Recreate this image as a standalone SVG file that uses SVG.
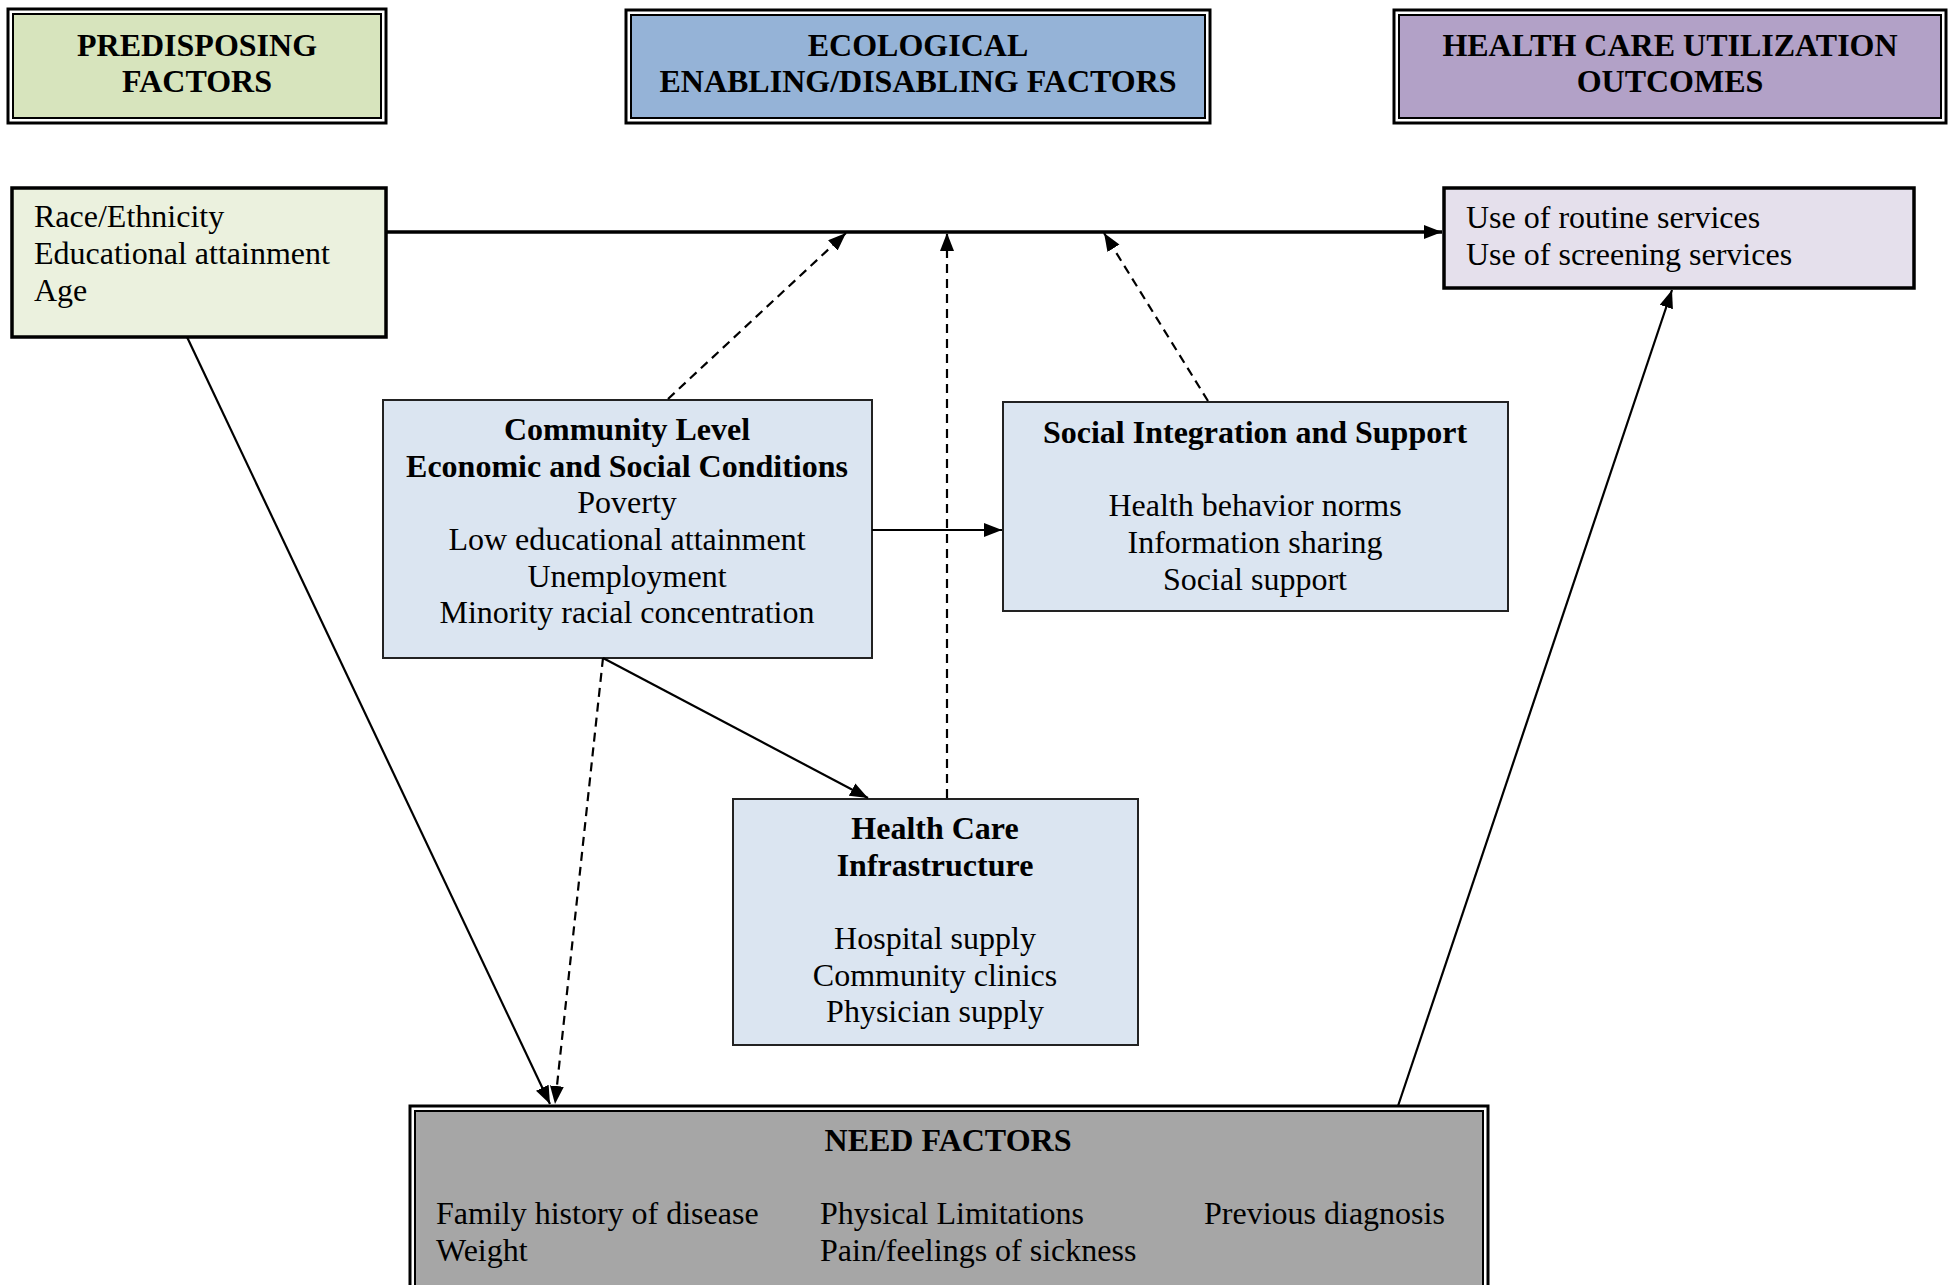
<svg xmlns="http://www.w3.org/2000/svg" width="1954" height="1285" viewBox="0 0 1954 1285">
<defs>
<marker id="ah" markerUnits="userSpaceOnUse" markerWidth="20" markerHeight="16" refX="18" refY="7" orient="auto">
<path d="M0,0 L18,7 L0,14 z" fill="#000"/>
</marker>
</defs>
<style>
text{font-family:"Liberation Serif","Times New Roman",serif;font-size:32px;fill:#000}
.b{font-weight:bold}
.c{text-anchor:middle}
.outer{fill:#fff;stroke:#000;stroke-width:3}
.inner{stroke:#000;stroke-width:2}
.box{stroke:#000;stroke-width:3.5}
.mid{fill:#dbe5f1;stroke:#222;stroke-width:2}
.ln{fill:none;stroke:#000;stroke-width:2.2}
.dash{fill:none;stroke:#000;stroke-width:2.2;stroke-dasharray:9,6}
</style>
<rect width="1954" height="1285" fill="#fff"/>

<g id="hdr-predisposing">
<rect class="outer" x="8" y="9" width="378" height="114"/>
<rect class="inner" x="13" y="14" width="368" height="104" fill="#d7e4bd"/>
<text class="b c" x="197" y="56">PREDISPOSING</text>
<text class="b c" x="197" y="92">FACTORS</text>
</g>

<g id="hdr-ecological">
<rect class="outer" x="626" y="10" width="584" height="113"/>
<rect class="inner" x="631" y="15" width="574" height="103" fill="#95b3d7"/>
<text class="b c" x="918" y="56">ECOLOGICAL</text>
<text class="b c" x="918" y="92">ENABLING/DISABLING FACTORS</text>
</g>

<g id="hdr-outcomes">
<rect class="outer" x="1394" y="10" width="552" height="113"/>
<rect class="inner" x="1399" y="15" width="542" height="103" fill="#b2a1c7"/>
<text class="b c" x="1670" y="56">HEALTH CARE UTILIZATION</text>
<text class="b c" x="1670" y="92">OUTCOMES</text>
</g>

<g id="predisposing">
<rect class="box" x="12" y="188" width="374" height="149" fill="#ebf1de"/>
<text x="34" y="227">Race/Ethnicity</text>
<text x="34" y="264">Educational attainment</text>
<text x="34" y="301">Age</text>
</g>

<g id="outcomes">
<rect class="box" x="1444" y="188" width="470" height="100" fill="#e5e0ec"/>
<text x="1466" y="228">Use of routine services</text>
<text x="1466" y="265">Use of screening services</text>
</g>

<g id="community">
<rect class="mid" x="383" y="400" width="489" height="258"/>
<text class="b c" x="627" y="440">Community Level</text>
<text class="b c" x="627" y="477">Economic and Social Conditions</text>
<text class="c" x="627" y="513">Poverty</text>
<text class="c" x="627" y="550">Low educational attainment</text>
<text class="c" x="627" y="587">Unemployment</text>
<text class="c" x="627" y="623">Minority racial concentration</text>
</g>

<g id="social">
<rect class="mid" x="1003" y="402" width="505" height="209"/>
<text class="b c" x="1255" y="443">Social Integration and Support</text>
<text class="c" x="1255" y="516">Health behavior norms</text>
<text class="c" x="1255" y="553">Information sharing</text>
<text class="c" x="1255" y="590">Social support</text>
</g>

<g id="infrastructure">
<rect class="mid" x="733" y="799" width="405" height="246"/>
<text class="b c" x="935" y="839">Health Care</text>
<text class="b c" x="935" y="876">Infrastructure</text>
<text class="c" x="935" y="949">Hospital supply</text>
<text class="c" x="935" y="986">Community clinics</text>
<text class="c" x="935" y="1022">Physician supply</text>
</g>

<g id="need">
<rect class="outer" x="410" y="1106" width="1078" height="190"/>
<rect class="inner" x="415" y="1111" width="1068" height="190" fill="#a6a6a6"/>
<text class="b c" x="948" y="1151">NEED FACTORS</text>
<text x="436" y="1224">Family history of disease</text>
<text x="436" y="1261">Weight</text>
<text x="820" y="1224">Physical Limitations</text>
<text x="820" y="1261">Pain/feelings of sickness</text>
<text x="1204" y="1224">Previous diagnosis</text>
</g>

<g id="connectors">
<line x1="386" y1="232" x2="1442" y2="232" stroke="#000" stroke-width="3.4" marker-end="url(#ah)"/>
<line class="dash" x1="668" y1="399" x2="846" y2="233" marker-end="url(#ah)"/>
<line class="dash" x1="947" y1="798" x2="947" y2="233" marker-end="url(#ah)"/>
<line class="dash" x1="1208" y1="401" x2="1104" y2="233" marker-end="url(#ah)"/>
<line class="ln" x1="872" y1="530" x2="1002" y2="530" marker-end="url(#ah)"/>
<line class="ln" x1="603" y1="658" x2="868" y2="798" marker-end="url(#ah)"/>
<line class="dash" x1="603" y1="658" x2="555" y2="1104" marker-end="url(#ah)"/>
<line class="ln" x1="187" y1="337" x2="550" y2="1104" marker-end="url(#ah)"/>
<line class="ln" x1="1398" y1="1106" x2="1672" y2="290" marker-end="url(#ah)"/>
</g>
</svg>
